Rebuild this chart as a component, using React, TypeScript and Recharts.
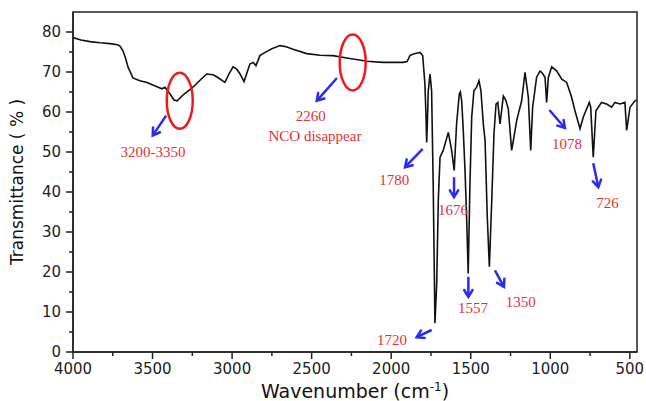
import {
  LineChart,
  Line,
  XAxis,
  YAxis,
  ReferenceArea,
  ReferenceDot,
  ReferenceLine,
} from 'recharts';

// FTIR spectrum
const wavenumber = [
  4000, 3950, 3893, 3830, 3767, 3720, 3705, 3686, 3670, 3654, 3623, 3580, 3535, 3472, 3441,
  3422, 3390, 3365, 3345, 3307, 3246, 3200, 3160, 3120, 3097, 3045, 3020, 2994, 2971, 2950,
  2925, 2905, 2888, 2867, 2850, 2825, 2793, 2750, 2699, 2660, 2617, 2531, 2448, 2366, 2280,
  2200, 2154, 2052, 1926, 1900, 1882, 1861, 1840, 1819, 1802, 1788, 1781, 1777, 1772, 1767,
  1756, 1746, 1736, 1725, 1714, 1704, 1693, 1673, 1641, 1620, 1604, 1589, 1572, 1565, 1557,
  1547, 1536, 1526, 1516, 1505, 1494, 1480, 1463, 1448, 1436, 1421, 1410, 1396, 1383, 1368,
  1354, 1341, 1330, 1316, 1295, 1280, 1264, 1243, 1232, 1211, 1180, 1159, 1138, 1123, 1111,
  1086, 1065, 1054, 1033, 1023, 1012, 991, 960, 928, 897, 866, 845, 813, 793, 755, 746, 730,
  713, 678, 646, 614, 594, 562, 531, 520, 499, 468, 455,
];

const transmittance = [
  78.6, 78.0, 77.6, 77.3, 77.1, 76.8, 76.5, 75.3, 73.5, 71.2, 68.5, 67.8, 67.4, 66.3, 65.8,
  66.2, 64.5, 63.0, 62.8, 64.3, 66.2, 68.0, 69.5, 69.3, 68.8, 67.4, 69.5, 71.3, 70.7, 69.5,
  67.6, 70.0, 72.0, 72.4, 71.6, 74.1, 74.9, 75.8, 76.6, 76.3, 75.7, 74.6, 74.2, 74.1, 73.5,
  73.0, 72.7, 72.4, 72.4, 72.6, 74.1, 74.5, 74.7, 74.9, 74.1, 67.0, 58.7, 52.4, 58.0, 65.3,
  69.5, 65.3, 42.0, 7.2, 17.1, 37.9, 48.7, 50.4, 54.9, 50.4, 45.4, 57.0, 64.5, 65.0, 62.8,
  55.4, 45.4, 33.7, 19.6, 42.0, 58.7, 65.3, 66.2, 67.8, 65.3, 57.0, 52.9, 33.7, 21.3, 37.9,
  54.5, 62.0, 62.4, 57.0, 64.0, 63.0, 60.8, 50.4, 52.9, 57.9, 62.8, 69.9, 63.7, 50.4, 61.2,
  68.7, 70.2, 69.9, 68.7, 62.4, 68.7, 71.3, 70.3, 68.2, 67.4, 63.7, 60.3, 55.8, 58.7, 62.4, 61.2, 48.7,
  60.3, 62.4, 62.0, 61.2, 62.4, 62.0, 62.4, 55.4, 61.2, 62.8, 63.0,
];

const xTicks = [4000, 3750, 3500, 3250, 3000, 2750, 2500, 2250, 2000, 1750, 1500, 1250, 1000, 750, 500];
const yTicks = [0, 5, 10, 15, 20, 25, 30, 35, 40, 45, 50, 55, 60, 65, 70, 75, 80];

// annotation marks (data units)
const circles = [
  { x: 3329, y: 62.8 },
  { x: 2242, y: 72.4 },
];

const arrows = [
  { from: { x: 3415, y: 59.1 }, to: { x: 3499, y: 54.1 } },
  { from: { x: 2341, y: 68.5 }, to: { x: 2468, y: 62.8 } },
  { from: { x: 1802, y: 50.8 }, to: { x: 1913, y: 46.2 } },
  { from: { x: 1605, y: 43.7 }, to: { x: 1605, y: 38.7 } },
  { from: { x: 1515, y: 18.8 }, to: { x: 1515, y: 13.8 } },
  { from: { x: 1348, y: 20.4 }, to: { x: 1291, y: 16.3 } },
  { from: { x: 1006, y: 60.5 }, to: { x: 908, y: 56.0 } },
  { from: { x: 730, y: 47.2 }, to: { x: 698, y: 41.2 } },
  { from: { x: 1746, y: 5.5 }, to: { x: 1840, y: 3.7 } },
];

const notes = [
  { x: 3497, y: 49.9, text: '3200-3350' },
  { x: 2506, y: 59.1, text: '2260' },
  { x: 2479, y: 53.9, text: 'NCO disappear' },
  { x: 1981, y: 42.9, text: '1780' },
  { x: 1612, y: 35.4, text: '1676' },
  { x: 1486, y: 11.0, text: '1557' },
  { x: 1186, y: 12.5, text: '1350' },
  { x: 895, y: 52.1, text: '1078' },
  { x: 640, y: 37.2, text: '726' },
  { x: 1995, y: 3.0, text: '1720' },
];

const data = wavenumber.map((wn, i) => ({ wn, t: transmittance[i] }));

const AXIS_FONT = '"DejaVu Sans", Verdana, sans-serif';
const NOTE_FONT = '"Liberation Serif", "Times New Roman", serif';
const RED = '#e23232';
const BLUE = '#2b2bef';

const XTick = (props: any) => {
  const { x, y, payload } = props;
  const major = payload.value % 500 === 0;
  return (
    <g>
      <line x1={x} x2={x} y1={y} y2={y + (major ? 7 : 4)} stroke="#222" strokeWidth={1.5} />
      {major && (
        <text x={x} y={y + 22} textAnchor="middle" fontSize={15} fontFamily={AXIS_FONT} fill="#222">
          {payload.value}
        </text>
      )}
    </g>
  );
};

const YTick = (props: any) => {
  const { x, y, payload } = props;
  const major = payload.value % 10 === 0;
  return (
    <g>
      <line x1={x - (major ? 7 : 4)} x2={x} y1={y} y2={y} stroke="#222" strokeWidth={1.5} />
      {major && (
        <text x={x - 12} y={y + 5} textAnchor="end" fontSize={15} fontFamily={AXIS_FONT} fill="#222">
          {payload.value}
        </text>
      )}
    </g>
  );
};

const XTitle = (props: any) => {
  const { x, y, width } = props.viewBox;
  return (
    <text x={x + width / 2} y={y + 46} textAnchor="middle" fontSize={19} fontFamily={AXIS_FONT} fill="#111">
      Wavenumber (cm
      <tspan dy={-7} fontSize={12}>-1</tspan>
      <tspan dy={7}>)</tspan>
    </text>
  );
};

const YTitle = (props: any) => {
  const { y, height } = props.viewBox;
  const cy = y + height / 2;
  return (
    <text
      x={23}
      y={cy}
      transform={`rotate(-90, 23, ${cy})`}
      textAnchor="middle"
      fontSize={17}
      fontFamily={AXIS_FONT}
      fill="#111"
    >
      Transmittance ( % )
    </text>
  );
};

const Ellipse = (props: any) => (
  <ellipse cx={props.cx} cy={props.cy} rx={13} ry={28} fill="none" stroke="#ee1b1b" strokeWidth={2.5} />
);

const NoteText = (text: string) => (props: any) => (
  <text
    x={props.cx}
    y={props.cy}
    textAnchor="middle"
    dominantBaseline="central"
    fontSize={15}
    fontFamily={NOTE_FONT}
    fill={RED}
  >
    {text}
  </text>
);

const Arrow = (props: any) => {
  const { x1, y1, x2, y2 } = props;
  const a = Math.atan2(y2 - y1, x2 - x1);
  const h = 8;
  const p1 = [x2 - h * Math.cos(a - 0.55), y2 - h * Math.sin(a - 0.55)];
  const p2 = [x2 - h * Math.cos(a + 0.55), y2 - h * Math.sin(a + 0.55)];
  return (
    <g>
      <line x1={x1} y1={y1} x2={x2} y2={y2} stroke={BLUE} strokeWidth={2.5} />
      <polyline
        points={`${p1[0]},${p1[1]} ${x2},${y2} ${p2[0]},${p2[1]}`}
        fill="none"
        stroke={BLUE}
        strokeWidth={2.5}
        strokeLinecap="round"
      />
    </g>
  );
};

export default function App() {
  return (
    <div style={{ position: 'absolute', left: 0, top: 0, width: 646, height: 401, background: '#fff' }}>
      <LineChart width={646} height={401} data={data} margin={{ top: 12, right: 9, bottom: 0, left: 0 }}>
        <XAxis
          dataKey="wn"
          type="number"
          domain={[455, 4000]}
          reversed
          ticks={xTicks}
          interval={0}
          tickSize={0}
          tickMargin={0}
          tick={XTick}
          height={49}
          allowDataOverflow
          axisLine={{ stroke: '#222', strokeWidth: 1.5 }}
          label={XTitle}
        />
        <YAxis
          type="number"
          domain={[0, 85]}
          ticks={yTicks}
          interval={0}
          tickSize={0}
          tickMargin={0}
          tick={YTick}
          width={73}
          allowDataOverflow
          axisLine={{ stroke: '#222', strokeWidth: 1.5 }}
          label={YTitle}
        />
        <ReferenceArea x1={455} x2={4000} y1={0} y2={85} fill="none" stroke="#222" strokeWidth={1.5} />
        <Line
          type="linear"
          dataKey="t"
          stroke="#111"
          strokeWidth={1.6}
          dot={false}
          isAnimationActive={false}
        />
        {circles.map((c, i) => (
          <ReferenceDot key={`c${i}`} x={c.x} y={c.y} r={0} shape={Ellipse} ifOverflow="visible" />
        ))}
        {arrows.map((a, i) => (
          <ReferenceLine key={`a${i}`} segment={[a.from, a.to]} shape={Arrow} ifOverflow="visible" />
        ))}
        {notes.map((n, i) => (
          <ReferenceDot key={`n${i}`} x={n.x} y={n.y} r={0} shape={NoteText(n.text)} ifOverflow="visible" />
        ))}
      </LineChart>
    </div>
  );
}
